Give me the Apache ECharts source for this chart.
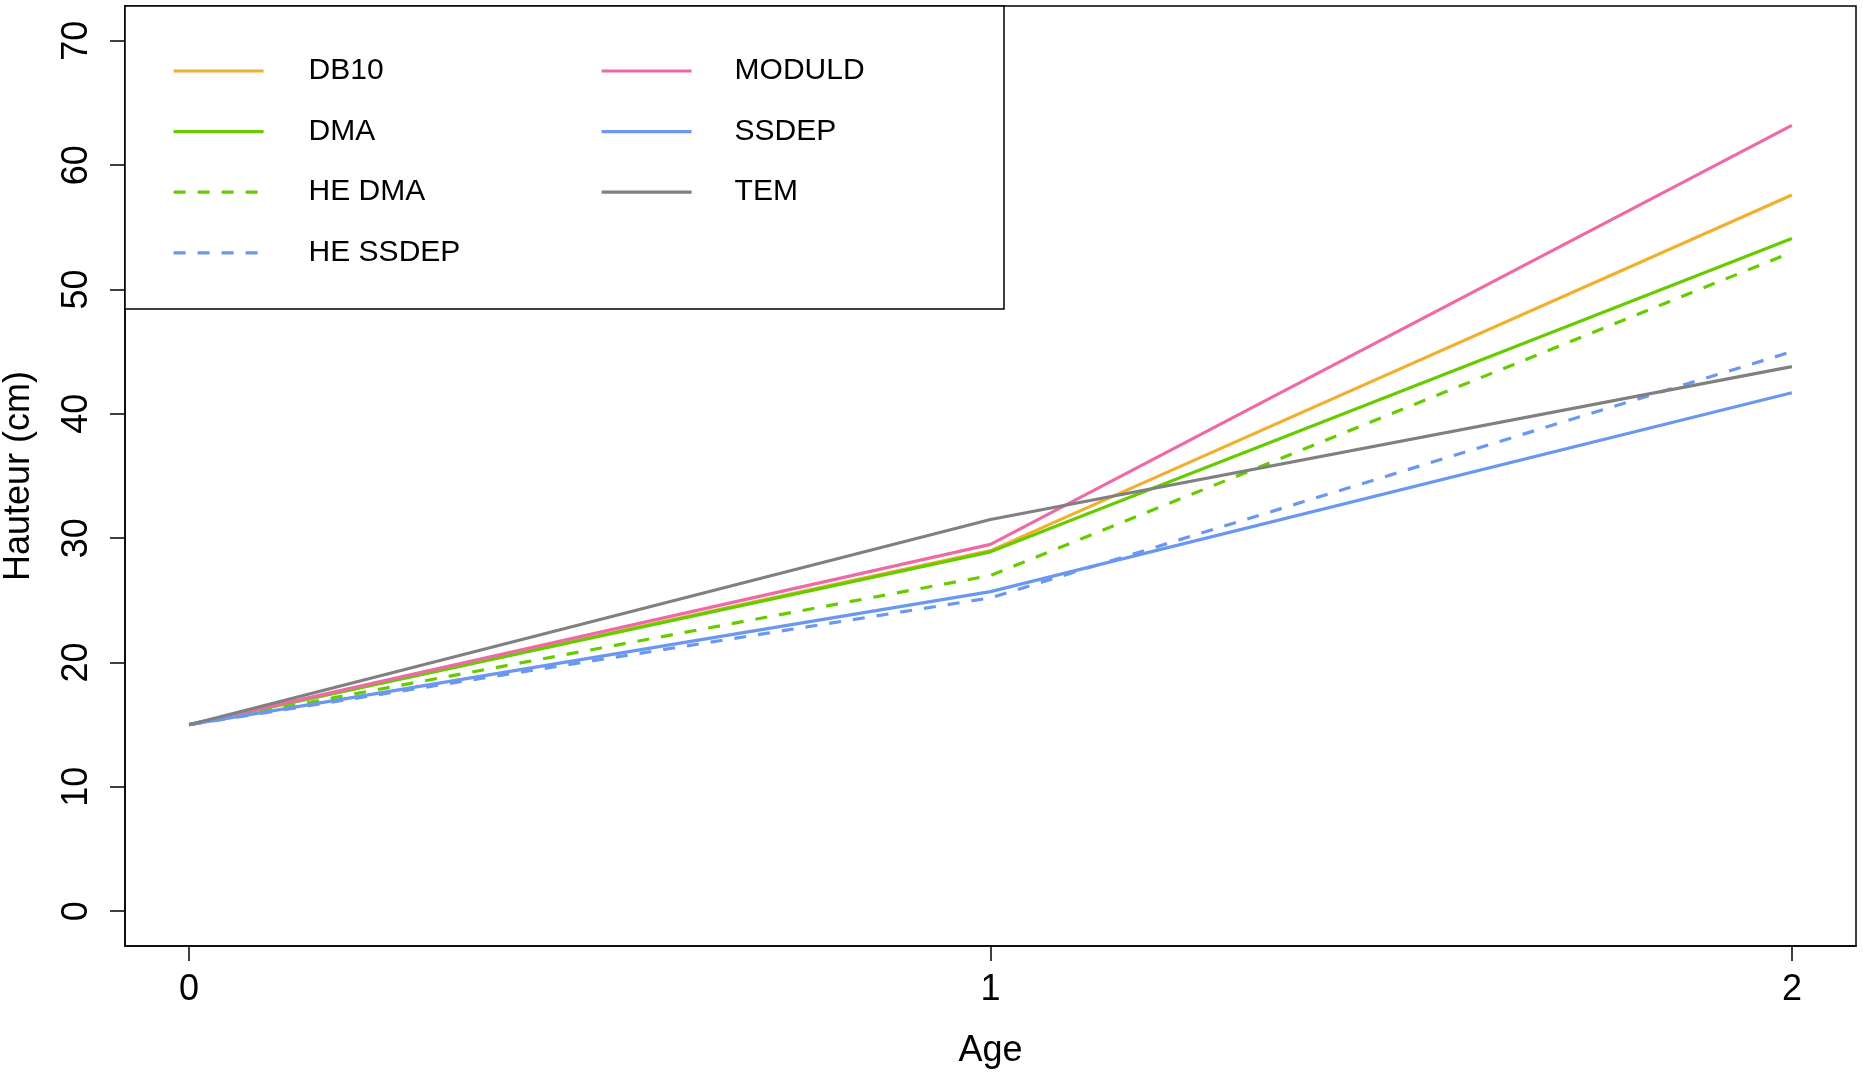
<!DOCTYPE html>
<html>
<head>
<meta charset="utf-8">
<script src="https://cdn.jsdelivr.net/npm/echarts@6/dist/echarts.min.js"></script>
<style>html,body{margin:0;padding:0;background:#fff}#c{width:1863px;height:1073px}</style>
</head>
<body>
<div id="c"></div>
<script>
const ages = [0, 1, 2];
const xTicks = [0, 1, 2];
const yTicks = [0, 10, 20, 30, 40, 50, 60, 70];
const DB10 = [15, 29.0, 57.6];
const DMA = [15, 28.9, 54.1];
const HE_DMA = [15, 27.0, 53.0];
const HE_SSDEP = [15, 25.2, 45.0];
const MODULD = [15, 29.5, 63.2];
const SSDEP = [15, 25.7, 41.7];
const TEM = [15, 31.5, 43.8];

const FONT = '"Liberation Sans", Arial, sans-serif';
function pts(v) { return ages.map((a, i) => [a, v[i]]); }
function ser(name, v, color, dashed) {
  return {
    name, type: 'line', data: pts(v), symbol: 'none', silent: true,
    lineStyle: { color, width: 3.2, type: dashed ? [12, 12] : 'solid' },
    itemStyle: { color }
  };
}
const legendCommon = {
  orient: 'vertical', top: 56, z: 10, padding: 0,
  itemWidth: 90, itemHeight: 30, itemGap: 30.6,
  itemStyle: { opacity: 0 },
  lineStyle: { width: 3.2 },
  selectedMode: false
};
const chart = echarts.init(document.getElementById('c'), null, { renderer: 'canvas' });
chart.setOption({
  animation: false,
  backgroundColor: '#fff',
  grid: { left: 125, right: 7, top: 6, bottom: 127, show: true, borderColor: '#000', borderWidth: 1.5, backgroundColor: 'transparent', containLabel: false, outerBoundsMode: 'none' },
  xAxis: {
    type: 'value', min: -0.08, max: 2.08,
    name: 'Age', nameLocation: 'middle', nameGap: 87,
    nameTextStyle: { fontSize: 36, color: '#000', fontFamily: FONT },
    axisLine: { show: true, onZero: false, lineStyle: { color: '#000', width: 1.5 } },
    axisTick: { show: true, length: 15, inside: false, customValues: xTicks, lineStyle: { color: '#000', width: 1.5 } },
    axisLabel: { customValues: xTicks, fontSize: 36, color: '#000', fontFamily: FONT, margin: 26 },
    splitLine: { show: false }
  },
  yAxis: {
    type: 'value', min: -2.8, max: 72.8,
    name: 'Hauteur (cm)', nameLocation: 'middle', nameGap: 88, nameRotate: 90,
    nameTextStyle: { fontSize: 36, color: '#000', fontFamily: FONT },
    axisLine: { show: true, onZero: false, lineStyle: { color: '#000', width: 1.5 } },
    axisTick: { show: true, length: 15, inside: false, customValues: yTicks, lineStyle: { color: '#000', width: 1.5 } },
    axisLabel: { customValues: yTicks, fontSize: 36, color: '#000', fontFamily: FONT, rotate: 90, margin: 30 },
    splitLine: { show: false }
  },
  graphic: [{
    type: 'rect', z: 3, silent: true,
    shape: { x: 125, y: 6, width: 879, height: 303 },
    style: { fill: '#fff', stroke: '#000', lineWidth: 1.5 }
  }],
  legend: [Object.assign({}, legendCommon, {
    data: ['DB10', 'DMA', 'HE DMA', 'HE SSDEP'], left: 172,
    textStyle: { fontSize: 30, color: '#000', fontFamily: FONT, lineHeight: 30, padding: [0, 0, 0, 40] }
  }), Object.assign({}, legendCommon, {
    data: ['MODULD', 'SSDEP', 'TEM'], left: 600,
    textStyle: { fontSize: 30, color: '#000', fontFamily: FONT, lineHeight: 30, padding: [0, 0, 0, 38] }
  })],
  series: [
    ser('DB10', DB10, '#F2AF2F', false),
    ser('DMA', DMA, '#66CC00', false),
    ser('HE DMA', HE_DMA, '#66CC00', true),
    ser('HE SSDEP', HE_SSDEP, '#6A97EF', true),
    ser('MODULD', MODULD, '#EE6AA7', false),
    ser('SSDEP', SSDEP, '#6A97EF', false),
    ser('TEM', TEM, '#808080', false)
  ]
});
</script>
</body>
</html>
